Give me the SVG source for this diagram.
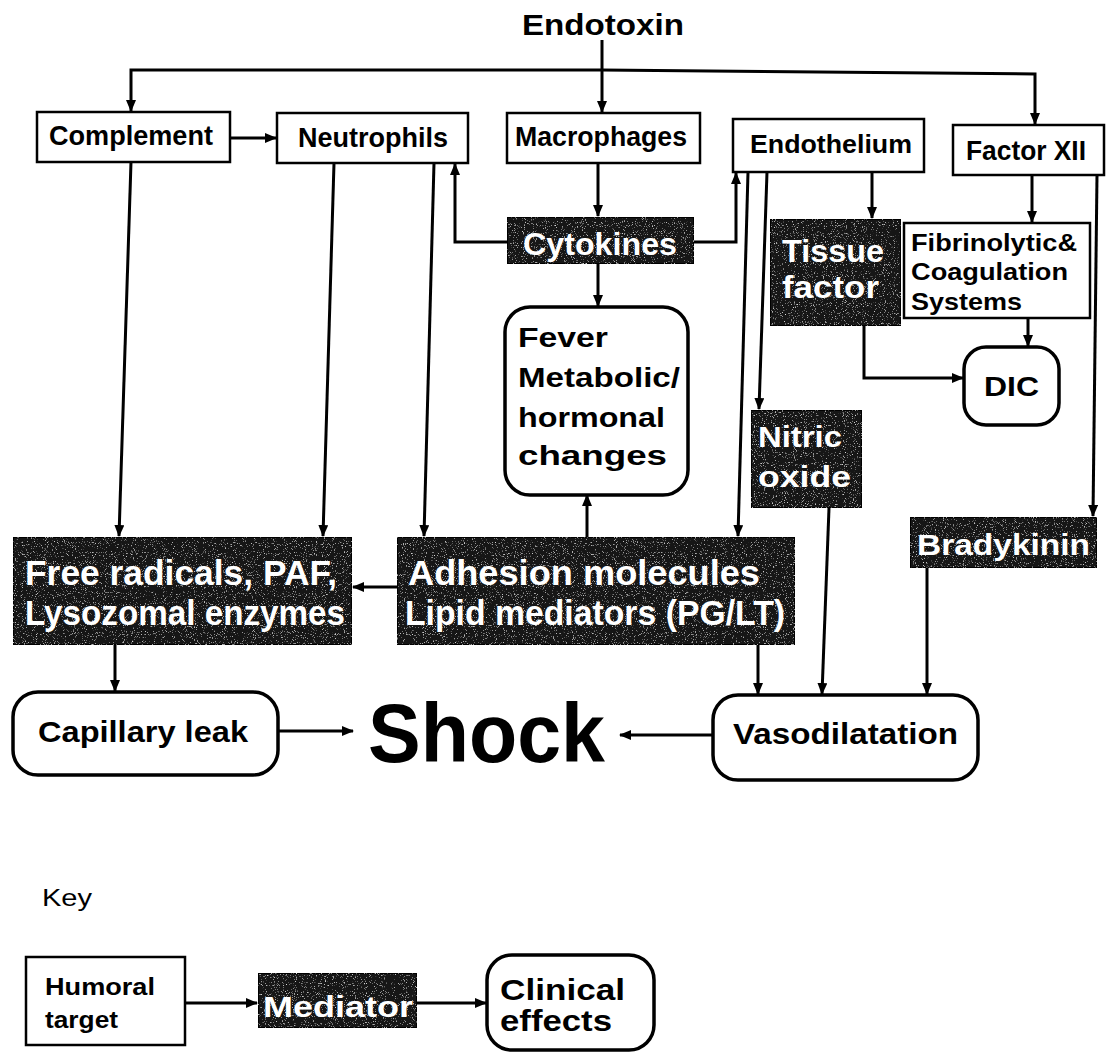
<svg xmlns="http://www.w3.org/2000/svg" width="1111" height="1053" viewBox="0 0 1111 1053">
<style>
  .box { fill: #fff; stroke: #000; stroke-width: 2.5; }
  .dark { fill: #141414; stroke: #000; stroke-width: 2; }
  .rbox { fill: #fff; stroke: #000; stroke-width: 3.5; }
  .t { font-family: "Liberation Sans", Arial, sans-serif; font-weight: bold; fill: #000; }
  .w { font-family: "Liberation Sans", Arial, sans-serif; font-weight: bold; fill: #fff; }
  .n { font-family: "Liberation Sans", Arial, sans-serif; font-weight: normal; fill: #000; }
  .c { fill: none; stroke: #000; stroke-width: 3; marker-end: url(#ah); }
</style>
<defs>
  <marker id="ah" viewBox="0 0 12 10" refX="11" refY="5" markerWidth="12" markerHeight="10" markerUnits="userSpaceOnUse" orient="auto">
    <path d="M0,0 L12,5 L0,10 Z" fill="#000"/>
  </marker>
  <filter id="grain" x="0" y="0" width="100%" height="100%">
    <feTurbulence type="fractalNoise" baseFrequency="0.9" numOctaves="2" seed="3" result="n"/>
    <feColorMatrix in="n" type="matrix" values="0 0 0 0 0.7  0 0 0 0 0.7  0 0 0 0 0.7  0 0 0 4 -2.5" result="g"/>
    <feComposite in="g" in2="SourceGraphic" operator="atop"/>
  </filter>
</defs>
<rect width="1111" height="1053" fill="#fff"/>

<g id="connectors">
  <path class="c" d="M602,40 V112"/>
  <path class="c" d="M602,70 H131 V111"/>
  <path class="c" d="M602,70 L1035,74 V124"/>
  <path class="c" d="M230,138 H276"/>
  <path class="c" d="M131,162 L119,536"/>
  <path class="c" d="M334,163 L323,536"/>
  <path class="c" d="M434,163 L424,536"/>
  <path class="c" d="M507,242 H455 V164"/>
  <path class="c" d="M598,163 V216"/>
  <path class="c" d="M694,242 H736 V173"/>
  <path class="c" d="M598,264 V306"/>
  <path class="c" d="M748,172 L738,536"/>
  <path class="c" d="M767,172 L759,409"/>
  <path class="c" d="M872,172 V218"/>
  <path class="c" d="M1032,175 V222"/>
  <path class="c" d="M1028,318 V346"/>
  <path class="c" d="M864,326 V378 H963"/>
  <path class="c" d="M1097,175 L1093,516"/>
  <path class="c" d="M587,537 V495"/>
  <path class="c" d="M397,587 H353"/>
  <path class="c" d="M115,645 V691"/>
  <path class="c" d="M758,645 V694"/>
  <path class="c" d="M829,508 L822,694"/>
  <path class="c" d="M927,568 V694"/>
  <path class="c" d="M278,731 H353"/>
  <path class="c" d="M713,735 H620"/>
  <path class="c" d="M185,1003 H257"/>
  <path class="c" d="M417,1003 H486"/>
</g>

<text class="t" x="522" y="35" font-size="30" textLength="162" lengthAdjust="spacingAndGlyphs">Endotoxin</text>

<g id="complement"><rect class="box" x="37" y="112" width="193" height="50"/>
<text class="t" x="49" y="145" font-size="27" textLength="164" lengthAdjust="spacingAndGlyphs">Complement</text></g>
<g id="neutrophils"><rect class="box" x="277" y="113" width="191" height="50"/>
<text class="t" x="298" y="147" font-size="27" textLength="150" lengthAdjust="spacingAndGlyphs">Neutrophils</text></g>
<g id="macrophages"><rect class="box" x="507" y="113" width="193" height="50"/>
<text class="t" x="515" y="146" font-size="27" textLength="172" lengthAdjust="spacingAndGlyphs">Macrophages</text></g>
<g id="endothelium"><rect class="box" x="733" y="119" width="191" height="53"/>
<text class="t" x="750" y="153" font-size="26" textLength="162" lengthAdjust="spacingAndGlyphs">Endothelium</text></g>
<g id="factor12"><rect class="box" x="953" y="125" width="151" height="50"/>
<text class="t" x="966" y="160" font-size="27" textLength="120" lengthAdjust="spacingAndGlyphs">Factor XII</text></g>

<g id="cytokines"><rect class="dark" x="507" y="217" width="187" height="47" filter="url(#grain)"/>
<text class="w" x="523" y="255" font-size="32" textLength="154" lengthAdjust="spacingAndGlyphs">Cytokines</text></g>

<g id="fever"><rect class="rbox" x="505" y="307" width="183" height="188" rx="25"/>
<text class="t" x="518" y="347" font-size="27" textLength="90" lengthAdjust="spacingAndGlyphs">Fever</text>
<text class="t" x="518" y="387" font-size="27" textLength="162" lengthAdjust="spacingAndGlyphs">Metabolic/</text>
<text class="t" x="518" y="427" font-size="27" textLength="147" lengthAdjust="spacingAndGlyphs">hormonal</text>
<text class="t" x="518" y="465" font-size="27" textLength="149" lengthAdjust="spacingAndGlyphs">changes</text></g>

<g id="tissuefactor"><rect class="dark" x="770" y="219" width="131" height="107" filter="url(#grain)"/>
<text class="w" x="782" y="262" font-size="31" textLength="102" lengthAdjust="spacingAndGlyphs">Tissue</text>
<text class="w" x="782" y="298" font-size="31" textLength="97" lengthAdjust="spacingAndGlyphs">factor</text></g>

<g id="fibrinolytic"><rect class="box" x="904" y="223" width="186" height="95"/>
<text class="t" x="911" y="251" font-size="24" textLength="166" lengthAdjust="spacingAndGlyphs">Fibrinolytic&amp;</text>
<text class="t" x="911" y="280" font-size="24" textLength="157" lengthAdjust="spacingAndGlyphs">Coagulation</text>
<text class="t" x="911" y="310" font-size="24" textLength="111" lengthAdjust="spacingAndGlyphs">Systems</text></g>

<g id="dic"><rect class="rbox" x="964" y="347" width="95" height="78" rx="22"/>
<text class="t" x="984" y="396" font-size="28" textLength="55" lengthAdjust="spacingAndGlyphs">DIC</text></g>

<g id="nitricoxide"><rect class="dark" x="751" y="410" width="111" height="98" filter="url(#grain)"/>
<text class="w" x="758" y="447" font-size="29" textLength="84" lengthAdjust="spacingAndGlyphs">Nitric</text>
<text class="w" x="758" y="487" font-size="29" textLength="93" lengthAdjust="spacingAndGlyphs">oxide</text></g>

<g id="bradykinin"><rect class="dark" x="910" y="517" width="187" height="51" filter="url(#grain)"/>
<text class="w" x="917" y="555" font-size="30" textLength="173" lengthAdjust="spacingAndGlyphs">Bradykinin</text></g>

<g id="freeradicals"><rect class="dark" x="13" y="537" width="339" height="108" filter="url(#grain)"/>
<text class="w" x="25" y="585" font-size="35" textLength="312" lengthAdjust="spacingAndGlyphs">Free radicals, PAF,</text>
<text class="w" x="25" y="625" font-size="35" textLength="320" lengthAdjust="spacingAndGlyphs">Lysozomal enzymes</text></g>

<g id="adhesion"><rect class="dark" x="397" y="537" width="398" height="108" filter="url(#grain)"/>
<text class="w" x="408" y="585" font-size="35" textLength="352" lengthAdjust="spacingAndGlyphs">Adhesion molecules</text>
<text class="w" x="405" y="625" font-size="35" textLength="380" lengthAdjust="spacingAndGlyphs">Lipid mediators (PG/LT)</text></g>

<g id="capillaryleak"><rect class="rbox" x="13" y="692" width="265" height="83" rx="25"/>
<text class="t" x="38" y="742" font-size="30" textLength="210" lengthAdjust="spacingAndGlyphs">Capillary leak</text></g>

<g id="shock"><text class="t" x="368" y="762" font-size="83" textLength="237" lengthAdjust="spacingAndGlyphs">Shock</text></g>

<g id="vasodilatation"><rect class="rbox" x="713" y="695" width="265" height="85" rx="25"/>
<text class="t" x="733" y="744" font-size="29" textLength="225" lengthAdjust="spacingAndGlyphs">Vasodilatation</text></g>

<text class="n" x="42" y="906" font-size="23" textLength="50" lengthAdjust="spacingAndGlyphs">Key</text>

<g id="key-humoral"><rect class="box" x="26" y="957" width="159" height="88"/>
<text class="t" x="45" y="995" font-size="24" textLength="110" lengthAdjust="spacingAndGlyphs">Humoral</text>
<text class="t" x="45" y="1028" font-size="24" textLength="73" lengthAdjust="spacingAndGlyphs">target</text></g>

<g id="key-mediator"><rect class="dark" x="258" y="973" width="159" height="55" filter="url(#grain)"/>
<text class="w" x="263" y="1017" font-size="30" textLength="150" lengthAdjust="spacingAndGlyphs">Mediator</text></g>

<g id="key-clinical"><rect class="rbox" x="487" y="955" width="167" height="95" rx="25"/>
<text class="t" x="500" y="1000" font-size="30" textLength="125" lengthAdjust="spacingAndGlyphs">Clinical</text>
<text class="t" x="500" y="1031" font-size="30" textLength="112" lengthAdjust="spacingAndGlyphs">effects</text></g>
</svg>
